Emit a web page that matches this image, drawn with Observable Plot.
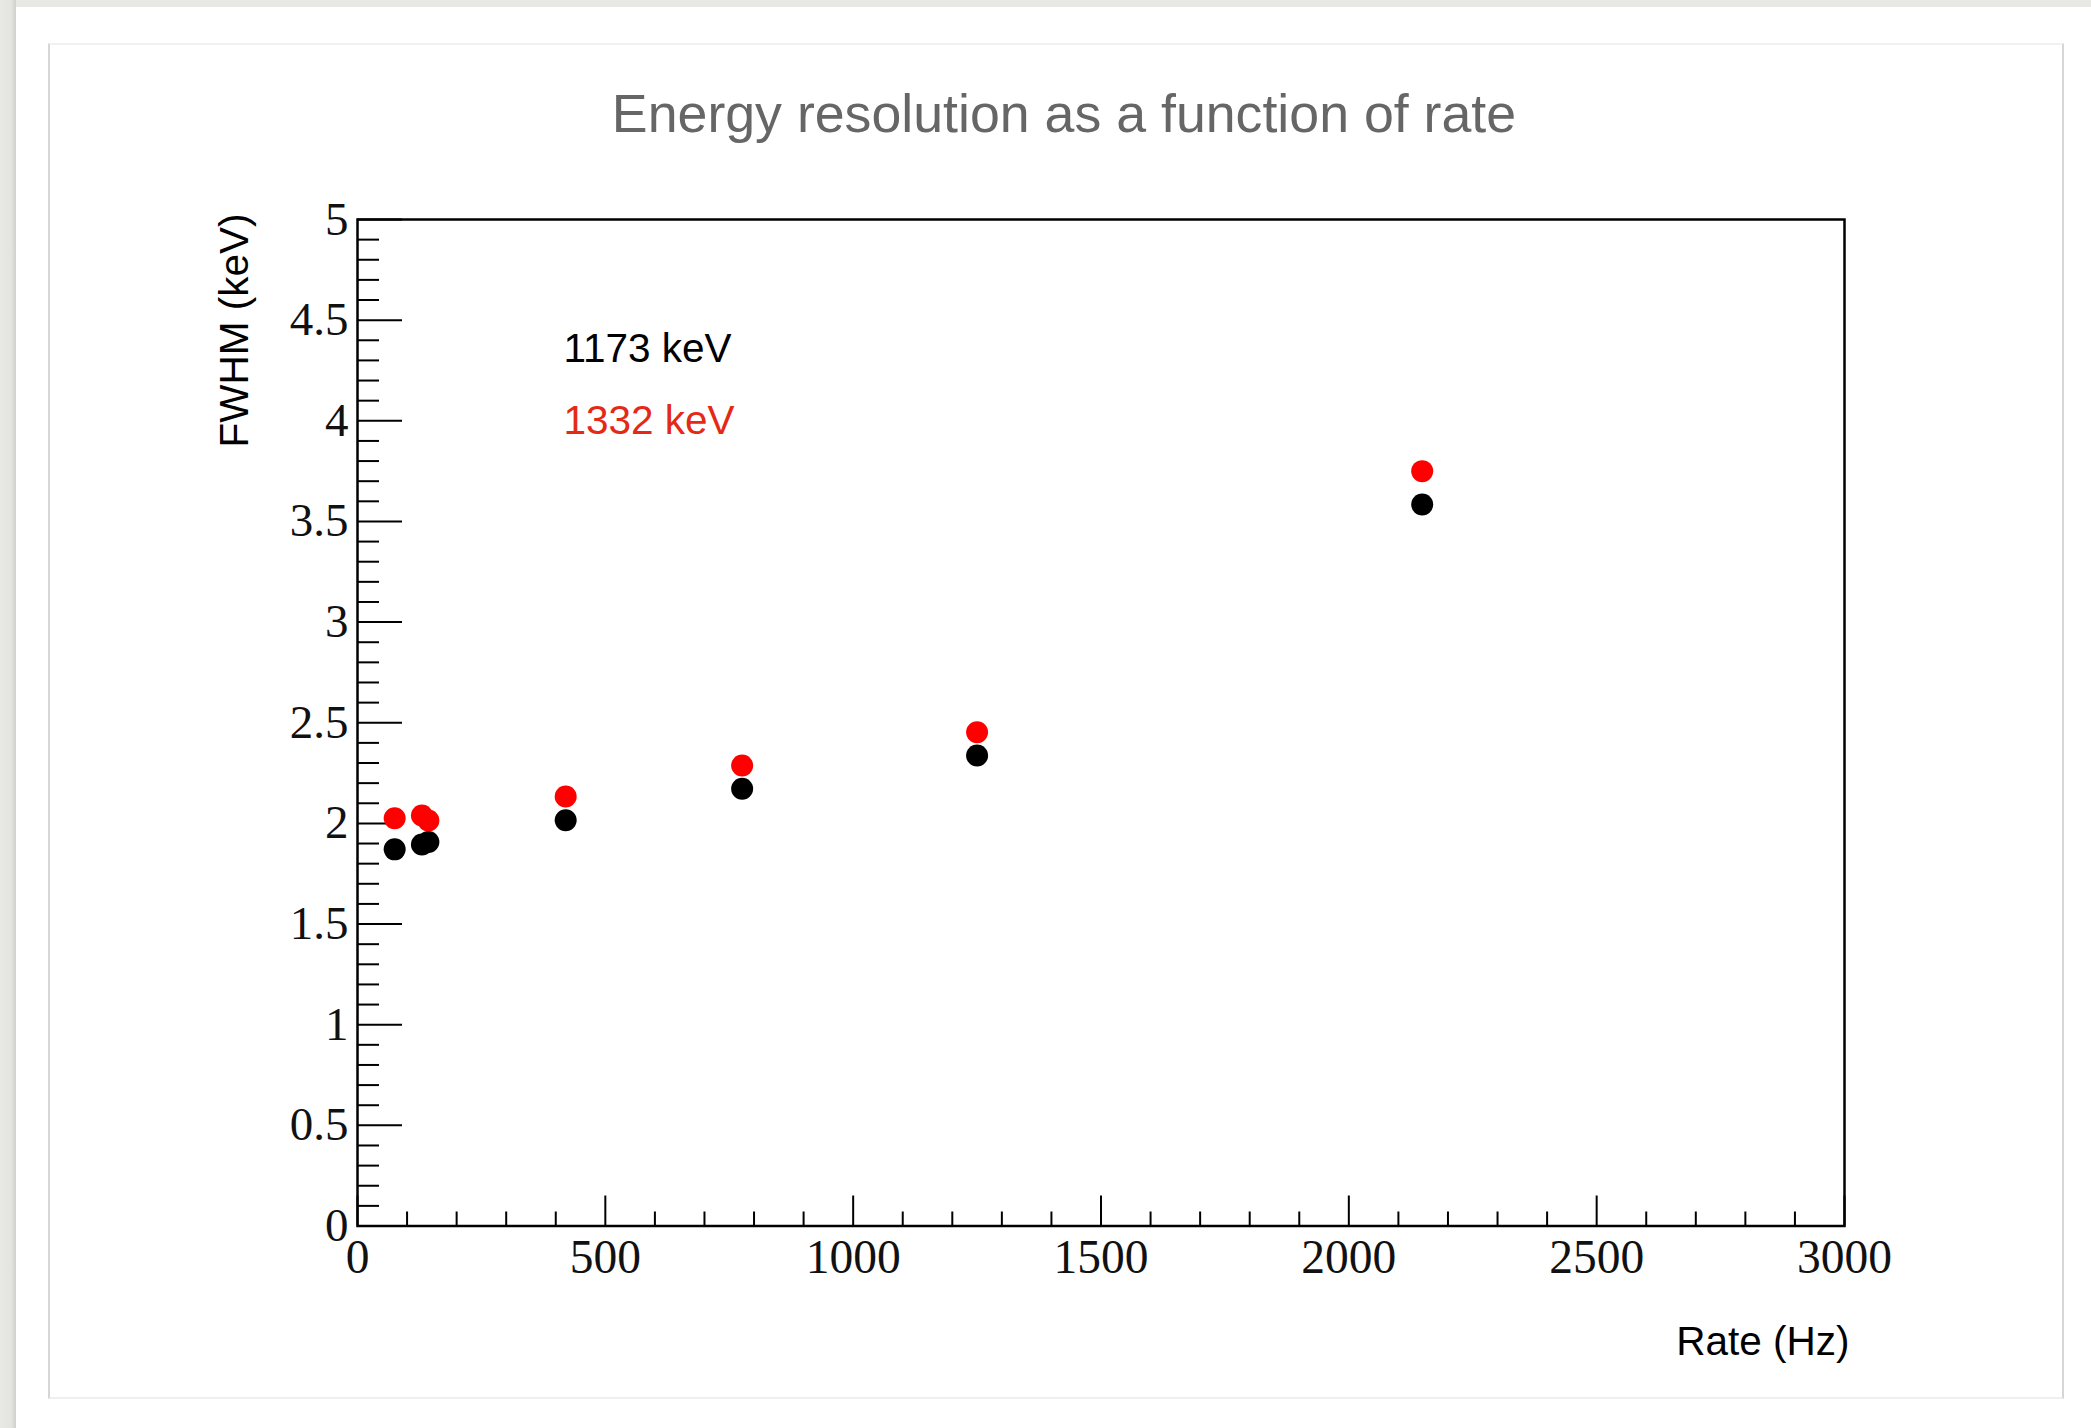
<!DOCTYPE html>
<html>
<head>
<meta charset="utf-8">
<script src="https://cdn.jsdelivr.net/npm/d3@7"></script>
<script src="https://cdn.jsdelivr.net/npm/@observablehq/plot@0.6"></script>
<style>
  html, body { margin: 0; padding: 0; background: #ffffff; }
  #page { position: relative; width: 2091px; height: 1428px; overflow: hidden; background: #ffffff; }
  #topstrip { position: absolute; left: 0; top: 0; width: 2091px; height: 7px; background: #e8e8e4; }
  #leftstrip { position: absolute; left: 0; top: 0; width: 16px; height: 1428px;
    background: linear-gradient(to right, #e8e8e4 0%, #e4e4e0 70%, #cfcfcb 100%); }
  #card { position: absolute; left: 48px; top: 43px; width: 2016px; height: 1356px; box-sizing: border-box;
    border-left: 2px solid #d6d6d6; border-right: 2px solid #d6d6d6; border-top: 2px solid #f1f1f1; border-bottom: 2px solid #efefef; }
  #chart { position: absolute; left: 0; top: 0; }
</style>
</head>
<body>
<div id="page">
  <div id="topstrip"></div>
  <div id="leftstrip"></div>
  <div id="card"></div>
  <div id="chart"></div>
</div>
<script>
// ---- data ----
const rate = [75, 130, 143, 420, 776, 1250, 2148];          // Rate (Hz)
const fwhm1173 = [1.871, 1.895, 1.908, 2.016, 2.172, 2.337, 3.584]; // FWHM (keV), 1173 keV line
const fwhm1332 = [2.026, 2.039, 2.014, 2.134, 2.288, 2.453, 3.750]; // FWHM (keV), 1332 keV line
const seriesNames = ["1173 keV", "1332 keV"];
const seriesColors = ["#000000", "#ff0000"];
const legendColors = ["#000000", "#e42a14"];

const xMajor = [0, 500, 1000, 1500, 2000, 2500, 3000];
const xTickLabels = ["0", "500", "1000", "1500", "2000", "2500", "3000"];
const yMajor = [0, 0.5, 1, 1.5, 2, 2.5, 3, 3.5, 4, 4.5, 5];
const yTickLabels = ["0", "0.5", "1", "1.5", "2", "2.5", "3", "3.5", "4", "4.5", "5"];
const xMinor = d3.range(0, 31).map(i => i * 100).filter(v => v % 500 !== 0);
const yMinor = d3.range(0, 51).filter(i => i % 5 !== 0).map(i => i / 10);

const titleText = "Energy resolution as a function of rate";
const xTitle = "Rate (Hz)";
const yTitle = "FWHM (keV)";

const d1173 = rate.map((r, i) => ({rate: r, fwhm: fwhm1173[i]}));
const d1332 = rate.map((r, i) => ({rate: r, fwhm: fwhm1332[i]}));

const serif = "'Liberation Serif', 'Times New Roman', serif";
const sans = "'Liberation Sans', Arial, Helvetica, sans-serif";

const chart = Plot.plot({
  width: 2091,
  height: 1428,
  marginLeft: 357,
  marginRight: 247,
  marginTop: 219,
  marginBottom: 202.5,
  style: {background: "transparent", overflow: "visible", fontFamily: sans},
  x: {domain: [0, 3000], label: null},
  y: {domain: [0, 5], label: null},
  marks: [
    // inward ticks
    Plot.axisX(xMajor, {tickSize: -30, text: null, label: null, strokeWidth: 2}),
    Plot.axisX(xMinor, {tickSize: -14, text: null, label: null, strokeWidth: 2}),
    Plot.axisY(yMajor, {tickSize: -45, text: null, label: null, strokeWidth: 2}),
    Plot.axisY(yMinor, {tickSize: -22, text: null, label: null, strokeWidth: 2}),
    // tick labels
    Plot.axisX(xMajor, {tickSize: 0, tickPadding: 13.5, label: null, fontSize: 47.5, fontFamily: serif, fill: "#111",
      tickFormat: d => xTickLabels[xMajor.indexOf(d)]}),
    Plot.axisY(yMajor, {tickSize: 0, tickPadding: 9, label: null, fontSize: 47, fontFamily: serif, fill: "#111",
      tickFormat: d => yTickLabels[yMajor.indexOf(d)]}),
    Plot.frame({stroke: "#000", strokeWidth: 2.5}),
    // data
    Plot.dot(d1173, {x: "rate", y: "fwhm", r: 11, fill: seriesColors[0], stroke: "none"}),
    Plot.dot(d1332, {x: "rate", y: "fwhm", r: 11, fill: seriesColors[1], stroke: "none"}),
    // legend
    Plot.text([seriesNames[0]], {text: d => d, frameAnchor: "top-left", textAnchor: "start", lineAnchor: "middle",
      dx: 206, dy: 130, fontSize: 40.5, fontFamily: sans, fill: legendColors[0]}),
    Plot.text([seriesNames[1]], {text: d => d, frameAnchor: "top-left", textAnchor: "start", lineAnchor: "middle",
      dx: 206, dy: 201.5, fontSize: 40.5, fontFamily: sans, fill: legendColors[1]}),
    // title
    Plot.text([titleText], {text: d => d, frameAnchor: "top", textAnchor: "middle", lineAnchor: "middle",
      dx: -37, dy: -105, fontSize: 53.7, fontFamily: sans, fill: "#666666"}),
    // axis titles
    Plot.text([xTitle], {text: d => d, frameAnchor: "bottom-right", textAnchor: "end", lineAnchor: "middle",
      dx: 5, dy: 115.7, fontSize: 40.5, fontFamily: sans, fill: "#000"}),
    Plot.text([yTitle], {text: d => d, frameAnchor: "top-left", textAnchor: "end", lineAnchor: "middle",
      rotate: -90, dx: -122, dy: -6, fontSize: 40.5, fontFamily: sans, fill: "#000"})
  ]
});
document.getElementById("chart").appendChild(chart);
</script>
</body>
</html>
